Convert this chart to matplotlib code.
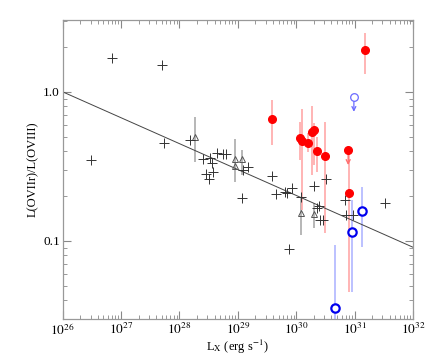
import matplotlib
matplotlib.use('Agg')
import matplotlib.pyplot as plt
import numpy as np
from matplotlib.ticker import LogLocator, FixedLocator, FixedFormatter, NullFormatter

plt.rcParams['font.family'] = ['Liberation Serif', 'DejaVu Serif']
plt.rcParams['mathtext.fontset'] = 'stix'

# black crosses (no extra error bars)
cross_x = [6.9e26, 4.95e27, 3.0e26, 5.5e27, 1.51e28, 2.49e28, 3.33e28, 3.56e28, 3.79e28,
           2.84e28, 3.2e28, 4.34e28, 5.62e28, 6.25e28, 1.24e29, 1.51e29, 1.16e29, 3.79e29,
           4.49e29, 6.32e29, 6.93e29, 8.44e29, 1.22e30, 1.99e30, 2.26e30, 2.42e30, 2.58e30,
           2.83e30, 3.19e30, 7.41e29, 6.82e30, 7.1e30, 9.46e30, 3.3e31]
cross_y = [1.70, 1.51, 0.348, 0.455, 0.474, 0.352, 0.357, 0.331, 0.290,
           0.280, 0.258, 0.390, 0.382, 0.382, 0.298, 0.314, 0.193, 0.272,
           0.206, 0.213, 0.210, 0.225, 0.196, 0.233, 0.165, 0.171, 0.138,
           0.138, 0.258, 0.0875, 0.188, 0.149, 0.149, 0.178]

# open triangles with grey error bars
tri_x = [1.86e28, 8.9e28, 8.9e28, 1.16e29, 1.22e30, 1.99e30]
tri_y = [0.499, 0.352, 0.317, 0.352, 0.154, 0.150]
tri_lo = [0.339, 0.249, 0.317, 0.276, 0.109, 0.122]
tri_hi = [0.673, 0.480, 0.317, 0.406, 0.197, 0.179]

# red filled circles
red_x = [3.88e29, 1.14e30, 1.24e30, 1.6e30, 1.83e30, 2.01e30, 2.23e30, 3.14e30, 8.09e30, 1.52e31]
red_y = [0.653, 0.487, 0.467, 0.455, 0.534, 0.551, 0.402, 0.370, 0.208, 1.905]
red_lo = [0.439, 0.348, 0.160, 0.396, 0.276, 0.32, 0.29, 0.113, 0.0455, 1.31]
red_hi = [0.879, 0.629, 0.765, 0.526, 0.80, 0.62, 0.499, 0.629, 0.406, 2.50]
red_ul_x = [7.76e30]
red_ul_y = [0.408]
red_ul_end = [0.322]

# blue open circles
blue_x = [1.32e31, 8.89e30, 4.55e30]
blue_y = [0.159, 0.115, 0.0352]
blue_lo = [0.0903, 0.0455, 0.025]
blue_hi = [0.230, 0.188, 0.0935]
blue_ul_x = [9.72e30]
blue_ul_y = [0.917]
blue_ul_end = [0.734]

# fit line  log(y) = slope * (log(Lx) - 26)
fit_slope = -0.174
fit_x = [1e26, 1e32]

x_ticks = [1e26, 1e27, 1e28, 1e29, 1e30, 1e31, 1e32]
x_ticklabels = [r'$10^{26}$', r'$10^{27}$', r'$10^{28}$', r'$10^{29}$',
                r'$10^{30}$', r'$10^{31}$', r'$10^{32}$']
y_ticks = [0.1, 1.0]
y_ticklabels = ['0.1', '1.0']

fig = plt.figure(figsize=(4.32, 3.6), dpi=100)
ax = fig.add_axes([0.145, 0.114, 0.811, 0.830])

# fit line
fx = np.array(fit_x)
ax.plot(fx, 10 ** (fit_slope * (np.log10(fx) - 26)), color='#444444', lw=0.7, zorder=2)

# triangles
tx, ty = np.array(tri_x), np.array(tri_y)
ax.vlines(tx, tri_lo, tri_hi, color='#aaaaaa', lw=1.2, zorder=1)
ax.plot(tx, ty, '^', mfc='none', mec='#555555', ms=5, mew=0.7, zorder=3)

# crosses
ax.plot(cross_x, cross_y, '+', color='#333333', ms=7, mew=0.7, zorder=3)

# red points
ax.vlines(red_x, red_lo, red_hi, color='#ffa8a8', lw=1.2, zorder=1)
ax.plot(red_x, red_y, 'o', color='#ff0000', ms=5.5, zorder=4)
for x, y, e in zip(red_ul_x, red_ul_y, red_ul_end):
    ax.annotate('', xy=(x, e), xytext=(x, y),
                arrowprops=dict(arrowstyle='->', color='#ff7070', lw=1.0,
                                mutation_scale=7, shrinkA=0, shrinkB=0))
ax.plot(red_ul_x, red_ul_y, 'o', color='#ff0000', ms=5.5, zorder=4)

# blue points
ax.vlines(blue_x, blue_lo, blue_hi, color='#b0b6ff', lw=1.2, zorder=1)
ax.plot(blue_x, blue_y, 'o', mfc='white', mec='#0000ee', ms=6, mew=1.6, zorder=4)
for x, y, e in zip(blue_ul_x, blue_ul_y, blue_ul_end):
    ax.annotate('', xy=(x, e), xytext=(x, y),
                arrowprops=dict(arrowstyle='->', color='#6a6aff', lw=0.9,
                                mutation_scale=7, shrinkA=3, shrinkB=0))
ax.plot(blue_ul_x, blue_ul_y, 'o', mfc='white', mec='#6a6aff', ms=5.5, mew=0.9, zorder=4)

ax.set_xscale('log')
ax.set_yscale('log')
ax.set_xlim(1e26, 1e32)
ax.set_ylim(0.0298, 3.03)

ax.xaxis.set_major_locator(FixedLocator(x_ticks))
ax.xaxis.set_major_formatter(FixedFormatter(x_ticklabels))
ax.xaxis.set_minor_locator(LogLocator(base=10, subs=np.arange(2, 10), numticks=20))
ax.xaxis.set_minor_formatter(NullFormatter())
ax.yaxis.set_major_locator(FixedLocator(y_ticks))
ax.yaxis.set_major_formatter(FixedFormatter(y_ticklabels))
ax.yaxis.set_minor_locator(LogLocator(base=10, subs=np.arange(2, 10), numticks=20))
ax.yaxis.set_minor_formatter(NullFormatter())

ax.tick_params(which='both', direction='in', top=True, right=True, color='#888888')
ax.tick_params(which='major', length=6, width=0.8, labelsize=9.5, pad=2)
ax.tick_params(which='minor', length=3, width=0.6)
for s in ax.spines.values():
    s.set_color('#999999')
    s.set_linewidth(0.9)

ax.set_xlabel(r'L$_{\rm X}$ (erg s$^{-1}$)', fontsize=9, labelpad=0)
ax.set_ylabel('L(OVIIr)/L(OVIII)', fontsize=9, labelpad=3)

fig.savefig('out.png', dpi=100)
